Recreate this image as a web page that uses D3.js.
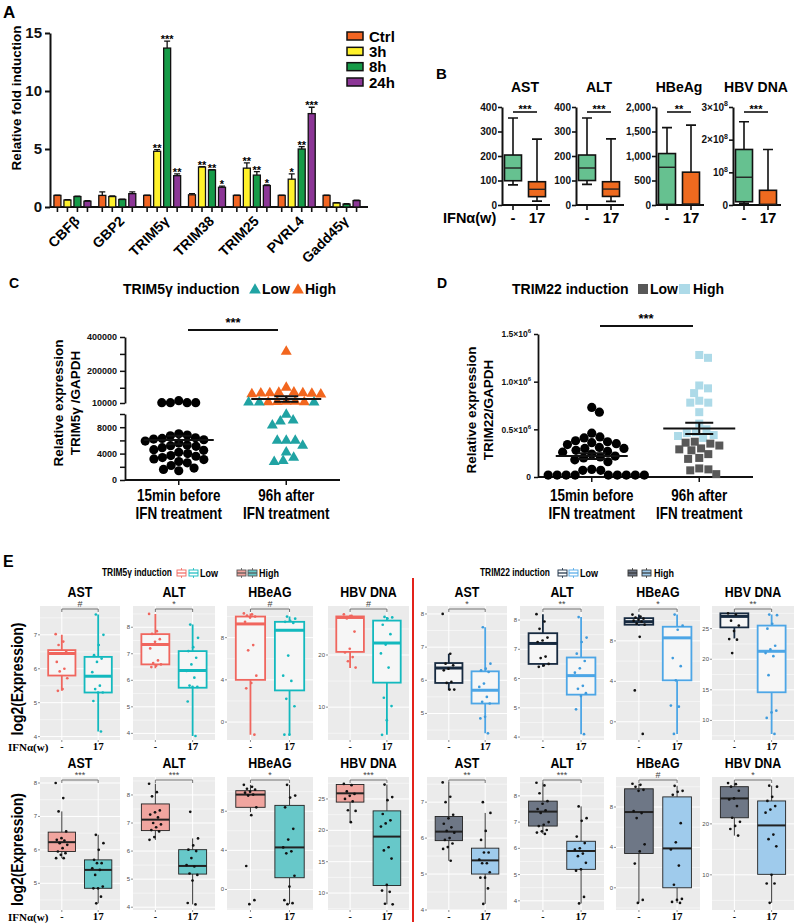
<!DOCTYPE html>
<html><head><meta charset="utf-8">
<script src="https://d3js.org/d3.v7.min.js"></script>
<style>
body{margin:0;background:#fff;}
svg{display:block;}
text{font-family:Arial,"Liberation Sans",Helvetica,sans-serif;}
</style></head>
<body><svg id="chart" width="800" height="924"></svg>
<script>
// ================= DATA =================
// Panel A
const aGenes = ["CBFβ","GBP2","TRIM5γ","TRIM38","TRIM25","PVRL4","Gadd45γ"];
const aSeries = ["Ctrl","3h","8h","24h"];
const aColors = ["#F26522","#FFF22B","#169B48","#8C3696"];
const aCtrl = [1.0,1.0,1.0,1.05,1.0,1.0,1.0];
const a3h   = [0.6,0.9,4.8,3.45,3.35,2.4,0.35];
const a8h   = [0.9,0.65,13.7,3.2,2.75,5.0,0.25];
const a24h  = [0.5,1.15,2.7,1.7,1.85,8.05,0.55];
const aCtrlErr = [0.03,0.3,0.03,0.1,0.03,0.03,0.03];
const a3hErr   = [0.03,0.05,0.15,0.03,0.45,0.45,0.03];
const a8hErr   = [0.03,0.03,0.6,0.03,0.3,0.2,0.03];
const a24hErr  = [0.05,0.15,0.15,0.1,0.05,0.55,0.03];
const aCtrlSig = ["","","","","","",""];
const a3hSig   = ["","","**","**","**","*",""];
const a8hSig   = ["","","***","**","**","**",""];
const a24hSig  = ["","","**","*","*","***",""];
const aYTicks = [0,5,10,15];

// Panel B  (box: [min, q1, median, q3, max])
const bMarkers = ["AST","ALT","HBeAg","HBV DNA"];
const bGroups = ["-","17"];
const bMax = [400,400,2000,3e8];
const bTicks = [[0,100,200,300,400],[0,100,200,300,400],[0,500,1000,1500,2000],[0,1e8,2e8,3e8]];
const bSig = ["***","***","**","***"];
const bCtrlBox = [[82,99,151,204,355],[84,100,151,204,355],[10,12,770,1050,1580],[0.05e8,0.1e8,0.85e8,1.7e8,2.55e8]];
const bIfnBox  = [[16,34,64,95,269],[15,35,65,95,270],[0,8,20,670,1630],[0,0.01e8,0.02e8,0.45e8,1.7e8]];

// Panel C
const cGroups = ["15min before|IFN treatment","96h after|IFN treatment"];
const cBefore = [24000,12000,12000,12000,12000,7000,6800,6700,6400,6300,6200,6100,5900,5600,5300,5200,5100,4900,4600,4500,4200,4000,3700,3600,3400,3200,3100,2800,2600,2200,1800,1600,1400];
const cAfterLow = [10500,10400,10300,9850,8970,8820,8200,5900,5900,5900,5130,4100,3330,2820,2670];
const cAfterHigh = [311000,98000,70000,68000,66000,65000,64000,62000,60000,58000,16000,15000,14000,13000,12500];
const cMeans = [6050,33600];
const cSems = [650,16000];
const cLowerTicks = [0,2000,4000,6000,8000,10000];
const cLowerLabels = [0,4000,8000];
const cUpperTicks = [10000,100000,200000,300000,400000];
const cUpperLabels = [10000,200000,400000];

// Panel D
const dBefore = [0.73e6,0.68e6,0.46e6,0.42e6,0.41e6,0.38e6,0.37e6,0.36e6,0.35e6,0.34e6,0.31e6,0.30e6,0.30e6,0.28e6,0.27e6,0.26e6,0.24e6,0.22e6,0.21e6,0.20e6,0.18e6,0.16e6,0.08e6,0.07e6,0.07e6,0.02e6,0.02e6,0.02e6,0.02e6,0.02e6,0.02e6,0.02e6,0.02e6,0.02e6];
const dAfterHigh = [1.28e6,1.25e6,0.96e6,0.93e6,0.88e6,0.80e6,0.78e6,0.78e6,0.68e6,0.56e6,0.50e6,0.47e6,0.46e6,0.44e6,0.43e6,0.41e6];
const dAfterLow = [0.37e6,0.36e6,0.35e6,0.33e6,0.30e6,0.29e6,0.28e6,0.24e6,0.20e6,0.19e6,0.09e6,0.08e6,0.07e6,0.03e6];
const dMeans = [0.22e6,0.51e6];
const dSems = [0.03e6,0.06e6];
const dTicks = [0,0.5e6,1.0e6,1.5e6];

// Panel E
const eMarkers = ["AST","ALT","HBeAG","HBV DNA"];
const eGroups = ["-","17"];
// TRIM5γ Low
const t5LowSig = ["#","*","#","#"];
const t5LowDomain = [[3.9,7.85],[3.75,8.8],[-1.7,11.0],[3.7,29.4]];
const t5LowTicks = [[4,5,6,7],[4,5,6,7,8],[0,4,8],[10,20]];
const t5LowCtrlBox = [[5.35,5.8,6.45,6.55,7.0],[6.45,6.6,7.35,7.74,8.5],[-1.2,4.0,9.3,10.0,10.3],[17.5,20.6,27.2,27.4,27.7]];
const t5LowIfnBox  = [[4.15,5.3,5.78,6.35,7.6],[3.9,5.72,6.37,7.1,8.1],[-1.2,3.0,8.7,9.5,10.0],[4.7,14.7,22.3,26.6,27.3]];
const t5LowCtrlPts = [[7.02,6.8,6.7,6.5,6.45,6.2,6.0,5.92,5.72,5.4,5.35],[8.5,7.85,7.75,7.55,7.45,7.2,6.75,6.65,6.6,6.55,6.5],[10.3,10.2,10.1,10.0,9.9,9.5,7.3,6.8,4.4,3.7,3.2,-1.2],[27.8,27.5,27.0,24.5,21.2,20.5,19.6,18.8,17.6]];
const t5LowIfnPts  = [[7.6,7.0,6.7,6.4,6.3,6.2,5.9,5.5,5.4,5.3,5.3,5.05,4.15],[8.1,7.6,7.25,7.1,6.85,6.6,6.35,6.1,5.8,5.75,5.75,5.2,3.9],[10.0,9.8,9.6,9.5,9.4,6.3,4.4,3.9,2.2,1.5,-1.2,-1.2],[27.3,27.2,27.0,25.8,24.0,22.0,20.3,17.6,11.8,10.2,7.5,4.7]];
// TRIM5γ High
const t5HighSig = ["***","***","*","***"];
const t5HighDomain = [[4.2,8.18],[3.9,8.64],[-2.1,11.5],[7.3,28.5]];
const t5HighTicks = [[5,6,7,8],[4,5,6,7,8],[0,4,8],[10,15,20,25]];
const t5HighCtrlBox = [[5.75,5.95,6.23,6.53,7.15],[6.4,6.73,7.12,7.68,8.4],[7.9,8.4,9.7,10.1,10.7],[21.3,24.5,25.9,27.3,27.4]];
const t5HighIfnBox  = [[4.4,4.85,5.4,5.7,6.45],[4.1,5.18,5.47,6.05,6.45],[-1.5,1.2,4.3,8.6,10.7],[8.2,11.2,19.0,23.1,27.3]];
const t5HighCtrlPts = [[8.0,7.55,7.15,6.55,6.35,6.3,6.28,6.2,6.15,6.05,5.95,5.9,5.85,5.75,5.75],[8.4,8.1,7.95,7.45,7.38,7.3,7.2,7.0,6.95,6.85,6.75,6.7,6.5,6.4],[10.7,10.5,10.3,10.2,10.0,9.9,9.7,9.6,8.4,7.6,2.4,-1.1,-1.5],[27.4,27.2,26.2,25.8,25.5,25.0,24.6,23.2,23.1,21.3]];
const t5HighIfnPts  = [[6.45,6.2,6.0,5.7,5.6,5.6,5.45,5.4,5.25,4.9,4.85,4.85,4.6,4.4],[7.4,6.45,6.2,6.05,6.0,5.75,5.5,5.45,5.2,5.15,4.95,4.15,4.1],[10.7,9.6,9.4,8.4,6.2,5.1,4.3,3.9,3.7,1.4,0.3,-1.1,-1.4,-1.5],[27.3,25.3,24.8,22.6,21.6,21.1,20.6,17.3,16.8,15.5,11.3,10.4,10.2,8.3,8.2]];
// TRIM22 Low
const t22LowSig = ["*","**","*","**"];
const t22LowDomain = [[4.2,8.24],[3.9,8.48],[-1.8,11.45],[6.8,28.7]];
const t22LowTicks = [[5,6,7,8],[4,5,6,7,8],[0,4,8],[10,15,20,25]];
const t22LowCtrlBox = [[5.7,5.92,6.37,6.52,6.8],[6.4,6.5,7.2,7.55,8.2],[9.5,9.6,9.9,10.25,10.6],[23.4,25.2,27.0,27.5,27.5]];
const t22LowIfnBox  = [[4.4,5.3,5.7,6.27,7.6],[4.1,5.45,6.1,6.72,8.1],[-1.2,4.1,8.3,9.4,10.6],[7.8,14.6,21.3,25.5,27.3]];
const t22LowCtrlPts = [[8.0,6.8,6.5,6.45,6.35,6.3,5.95,5.92,5.72,5.72],[8.2,7.95,7.7,7.4,7.3,7.25,6.75,6.7,6.5,6.45,6.4],[10.6,10.4,10.3,10.2,10.1,10.0,9.9,9.7,9.6,8.4,3.1,-1.2],[27.5,27.3,26.3,25.5,24.6,23.3,23.2,21.0]];
const t22LowIfnPts  = [[7.6,6.5,6.35,6.3,6.25,5.9,5.8,5.5,5.35,5.3,4.9,4.85,4.4],[8.1,7.4,7.25,6.85,6.6,6.35,6.2,5.75,5.65,5.5,5.4,4.95,4.1],[10.6,9.5,9.1,6.3,5.5,4.1,1.6,1.5,-1.2],[27.3,27.2,25.8,25.0,22.2,21.6,21.0,20.5,17.4,11.6,11.3,10.4,7.8]];
// TRIM22 High
const t22HighSig = ["**","***","#","*"];
const t22HighDomain = [[4.0,7.7],[3.65,8.72],[-2.2,10.97],[3.1,29.2]];
const t22HighTicks = [[4,5,6,7],[4,5,6,7,8],[0,4,8],[10,20]];
const t22HighCtrlBox = [[5.37,5.93,6.18,6.6,7.55],[6.55,6.85,7.4,7.8,8.5],[-1.5,3.4,7.5,9.8,10.3],[17.7,21.2,25.0,27.3,28.0]];
const t22HighIfnBox  = [[4.17,5.0,5.38,5.72,6.7],[3.9,5.2,5.9,6.27,7.6],[-1.5,0.0,3.9,9.0,10.1],[4.5,10.1,19.7,24.5,27.5]];
const t22HighCtrlPts = [[7.55,7.15,7.0,6.65,6.55,6.4,6.3,6.2,6.15,6.0,5.95,5.85,5.75,5.7,5.37],[8.5,8.4,8.1,7.8,7.7,7.5,7.45,7.35,7.0,6.9,6.85,6.7,6.65,6.6,6.55],[10.3,10.2,10.0,9.7,9.6,7.6,7.4,6.9,4.3,3.6,2.4,-1.2,-1.5],[28.0,27.8,27.3,26.5,25.0,24.8,23.5,21.2,20.4,19.6,19.0,17.7]];
const t22HighIfnPts  = [[7.0,6.7,6.2,5.95,5.6,5.6,5.4,5.3,5.3,5.05,4.9,4.9,4.6,4.17],[7.6,7.15,7.05,6.45,6.2,6.0,5.95,5.8,5.7,5.45,5.2,5.15,4.15,3.9],[10.1,9.6,9.5,9.2,6.4,4.5,3.8,2.2,0.3,-1.1,-1.2,-1.4,-1.5],[27.5,27.3,25.3,24.5,23.5,22.8,22.2,17.9,17.0,15.6,10.0,8.3,8.3,4.5]];

// ================= DRAWING =================
const svg = d3.select("#chart");
// text helper; opts.sx condenses text horizontally, opts.rot rotates it
function label(g, x, y, s, size, opts = {}) {
  const t = g.append("text").attr("font-size", size)
    .attr("font-weight", opts.weight || "bold").attr("text-anchor", opts.anchor || "start")
    .attr("fill", opts.fill || "#000").text(s);
  if (opts.family) t.style("font-family", opts.family);
  if (opts.sx || opts.rot) {
    t.attr("x", 0).attr("y", 0).attr("transform", `translate(${x},${y})` + (opts.rot ? ` rotate(${opts.rot})` : "") + (opts.sx ? ` scale(${opts.sx},1)` : ""));
  } else t.attr("x", x).attr("y", y);
  return t;
}
function supLabel(sel, base, exp, size) {
  sel.text(null);
  sel.append("tspan").text(base);
  sel.append("tspan").attr("dy", -size * 0.45).attr("font-size", size * 0.7).text(exp);
}
function swarm(ys, r) {
  const idx = ys.map((y, i) => i).sort((a, b) => ys[a] - ys[b]);
  const placed = [], out = new Array(ys.length), d = 2 * r;
  for (const i of idx) {
    const y = ys[i];
    const cands = [0];
    for (const p of placed) {
      const dy = Math.abs(p.y - y);
      if (dy < d) { const dx = Math.sqrt(d * d - dy * dy); cands.push(p.x + dx, p.x - dx); }
    }
    cands.sort((a, b) => Math.abs(a) - Math.abs(b));
    let x = 0;
    for (const c of cands) {
      if (placed.every(p => (p.x - c) ** 2 + (p.y - y) ** 2 >= d * d - 0.01)) { x = c; break; }
    }
    placed.push({ x, y }); out[i] = x;
  }
  return out;
}

// ---------- Panel A ----------
(function () {
  const g = svg.append("g");
  label(g, 3, 18, "A", 17);
  const ax = d3.scalePoint().domain(aGenes).range([50, 364]).padding(0.5);
  const aSub = d3.scaleBand().domain(aSeries).range([-19.5, 19.5]).paddingInner(0.3).paddingOuter(0.1);
  const ay = d3.scaleLinear().domain([0, 15]).range([207, 33]);
  const vals = [aCtrl, a3h, a8h, a24h], errs = [aCtrlErr, a3hErr, a8hErr, a24hErr], sigs = [aCtrlSig, a3hSig, a8hSig, a24hSig];
  const rows = aGenes.flatMap((gn, gi) => aSeries.map((s, si) => ({ gn, s, si, v: vals[si][gi], e: errs[si][gi], sig: sigs[si][gi] })));
  const bw = aSub.bandwidth();
  const cx = d => ax(d.gn) + aSub(d.s) + bw / 2;
  g.append("line").attr("x1", 50).attr("x2", 368).attr("y1", ay(0)).attr("y2", ay(0)).attr("stroke", "#111").attr("stroke-width", 2);
  g.selectAll(".xt").data(rows).join("line").attr("x1", cx).attr("x2", cx).attr("y1", ay(0)).attr("y2", ay(0) + 5).attr("stroke", "#111").attr("stroke-width", 1.6);
  g.selectAll(".bar").data(rows).join("rect")
    .attr("x", d => ax(d.gn) + aSub(d.s)).attr("y", d => ay(d.v)).attr("width", bw).attr("height", d => ay(0) - ay(d.v))
    .attr("fill", d => aColors[d.si]).attr("stroke", "#111").attr("stroke-width", 1.3);
  g.selectAll(".eb").data(rows).join("path")
    .attr("d", d => `M${cx(d)},${ay(d.v)}V${ay(d.v + d.e)}M${cx(d) - 3},${ay(d.v + d.e)}H${cx(d) + 3}`)
    .attr("stroke", "#111").attr("stroke-width", 1.3).attr("fill", "none");
  g.selectAll(".st").data(rows.filter(d => d.sig)).join("text")
    .attr("x", cx).attr("y", d => ay(d.v + d.e) + 2).attr("text-anchor", "middle")
    .attr("font-size", 11).attr("font-weight", "bold").text(d => d.sig);
  const yA = g.append("g").attr("transform", "translate(50,0)")
    .call(d3.axisLeft(ay).tickValues(aYTicks).tickSize(5).tickSizeOuter(0));
  yA.select(".domain").attr("stroke-width", 2).attr("stroke", "#111");
  yA.selectAll(".tick line").attr("stroke-width", 2).attr("stroke", "#111");
  yA.selectAll("text").attr("font-size", 15).attr("font-weight", "bold").attr("fill", "#111").style("font-family", "Arial");
  label(g, 21, 98, "Relative fold induction", 13.5, { anchor: "middle", rot: -90 });
  g.selectAll(".xl").data(aGenes).join("text")
    .attr("text-anchor", "end").attr("font-size", 14).attr("font-weight", "bold")
    .attr("transform", d => `translate(${ax(d) + 8},${222}) rotate(-45)`).text(d => d);
  const ly = d3.scalePoint().domain(aSeries).range([36, 82]);
  aSeries.forEach((s, i) => {
    g.append("rect").attr("x", 347).attr("y", ly(s) - 4).attr("width", 16).attr("height", 8).attr("fill", aColors[i]).attr("stroke", "#111").attr("stroke-width", 1.5);
    label(g, 369, ly(s) + 5.5, s, 15);
  });
})();

// ---------- Panel B ----------
(function () {
  const g = svg.append("g");
  label(g, 436, 79, "B", 15);
  const bX0 = [502, 576, 656, 733];
  const green = "#66C190", orange = "#EE6A1F";
  bMarkers.forEach((m, i) => {
    const x0 = bX0[i];
    const x = d3.scalePoint().domain(bGroups).range([x0 - 1, x0 + 47]).padding(0.5);
    const y = d3.scaleLinear().domain([0, bMax[i]]).range([205, 107]);
    const sg = g.append("g");
    sg.append("line").attr("x1", x0).attr("x2", x0 + 48).attr("y1", 205).attr("y2", 205).attr("stroke", "#111").attr("stroke-width", 2);
    bGroups.forEach(k => sg.append("line").attr("x1", x(k)).attr("x2", x(k)).attr("y1", 205).attr("y2", 210).attr("stroke", "#111").attr("stroke-width", 1.6));
    const ya = sg.append("g").attr("transform", `translate(${x0},0)`)
      .call(d3.axisLeft(y).tickValues(bTicks[i]).tickSize(4).tickSizeOuter(0));
    ya.select(".domain").attr("stroke-width", 2).attr("stroke", "#111");
    ya.selectAll(".tick line").attr("stroke-width", 1.6).attr("stroke", "#111");
    ya.selectAll("text").attr("font-size", 10).attr("font-weight", "bold").attr("fill", "#111").attr("x", -5);
    if (i === 3) {
      ya.selectAll("text").each(function (d) {
        const t = d3.select(this);
        const c = d / 1e8;
        if (c === 0) t.text("0");
        else supLabel(t, c === 1 ? "10" : c + "×10", "8", 10);
      });
    }
    [bCtrlBox[i], bIfnBox[i]].forEach((b, k) => {
      const cx = x(bGroups[k]), hw = 8.5;
      sg.append("path").attr("d", `M${cx},${y(b[0])}V${y(b[1])}M${cx},${y(b[3])}V${y(b[4])}M${cx - 5},${y(b[0])}H${cx + 5}M${cx - 5},${y(b[4])}H${cx + 5}`)
        .attr("stroke", "#111").attr("stroke-width", 1.6).attr("fill", "none");
      sg.append("rect").attr("x", cx - hw).attr("y", y(b[3])).attr("width", 2 * hw).attr("height", y(b[1]) - y(b[3]))
        .attr("fill", k === 0 ? green : orange).attr("stroke", "#111").attr("stroke-width", 1.6);
      sg.append("line").attr("x1", cx - hw).attr("x2", cx + hw).attr("y1", y(b[2])).attr("y2", y(b[2])).attr("stroke", "#222").attr("stroke-width", 1.4);
      label(sg, cx, 223, bGroups[k], 15, { anchor: "middle" });
    });
    sg.append("line").attr("x1", x("-")).attr("x2", x("17")).attr("y1", 112).attr("y2", 112).attr("stroke", "#111").attr("stroke-width", 1.6);
    label(sg, (x("-") + x("17")) / 2, 113, bSig[i], 11, { anchor: "middle" });
    label(sg, x0 + 23, 92, m, 14, { anchor: "middle" });
  });
  label(g, 443, 223, "IFNα(w)", 14.5);
})();

// ---------- Panel C ----------
(function () {
  const g = svg.append("g");
  label(g, 9, 288, "C", 14);
  const teal = "#20A3A3", orange = "#F2661E";
  label(g, 123, 294, "TRIM5γ induction", 14);
  const tri = d3.symbol(d3.symbolTriangle);
  g.append("path").attr("d", tri.size(60)()).attr("transform", "translate(255,290)").attr("fill", teal);
  label(g, 262, 294, "Low", 14);
  g.append("path").attr("d", tri.size(60)()).attr("transform", "translate(298,290)").attr("fill", orange);
  label(g, 305, 294, "High", 14);

  const x = d3.scalePoint().domain(cGroups).range([125, 340]).padding(0.5);
  const lower = d3.scaleLinear().domain([0, 10000]).range([480, 414]);
  const upper = d3.scaleLinear().domain([10000, 400000]).range([403, 337]);
  const cy = v => v > 10000 ? upper(v) : lower(v);
  const styleAxis = a => {
    a.select(".domain").attr("stroke-width", 1.8).attr("stroke", "#111");
    a.selectAll(".tick line").attr("stroke-width", 1.5).attr("stroke", "#111");
    a.selectAll("text").attr("font-size", 9).attr("font-weight", "bold").attr("fill", "#111");
  };
  styleAxis(g.append("g").attr("transform", "translate(125,0)")
    .call(d3.axisLeft(lower).tickValues(cLowerTicks).tickSize(5).tickSizeOuter(0).tickFormat(d => cLowerLabels.includes(d) ? d : "")));
  styleAxis(g.append("g").attr("transform", "translate(125,0)")
    .call(d3.axisLeft(upper).tickValues(cUpperTicks).tickSize(5).tickSizeOuter(0).tickFormat(d => cUpperLabels.includes(d) ? d : "")));
  g.append("line").attr("x1", 125).attr("x2", 340).attr("y1", 480).attr("y2", 480).attr("stroke", "#111").attr("stroke-width", 1.8);
  cGroups.forEach((k) => {
    g.append("line").attr("x1", x(k)).attr("x2", x(k)).attr("y1", 480).attr("y2", 485).attr("stroke", "#111").attr("stroke-width", 1.5);
    const [l1, l2] = k.split("|");
    label(g, x(k), 501, l1, 16, { anchor: "middle", sx: 0.84 });
    label(g, x(k), 519, l2, 16, { anchor: "middle", sx: 0.84 });
  });
  label(g, 63, 403, "Relative expression", 13.5, { anchor: "middle", rot: -90 });
  label(g, 80, 403, "TRIM5γ /GAPDH", 13.5, { anchor: "middle", rot: -90 });

  const yb = cBefore.map(cy);
  const xb = swarm(yb, 4.3);
  g.selectAll(".pb").data(cBefore).join("circle").attr("cx", (d, i) => x(cGroups[0]) + xb[i]).attr("cy", d => cy(d)).attr("r", 4.6).attr("fill", "#000");
  const after = cAfterHigh.map(v => ({ v, c: orange })).concat(cAfterLow.map(v => ({ v, c: teal })));
  const xa = swarm(after.map(d => cy(d.v)), 4.5);
  g.selectAll(".pa").data(after).join("path").attr("d", tri.size(52)())
    .attr("transform", (d, i) => `translate(${x(cGroups[1]) + xa[i]},${cy(d.v) - 0.5})`).attr("fill", d => d.c);
  cGroups.forEach((k, i) => {
    const m = cy(cMeans[i]), lo = cy(cMeans[i] - cSems[i]), hi = cy(cMeans[i] + cSems[i]), c = x(k);
    g.append("path").attr("d", `M${c - 35},${m}H${c + 35}M${c},${lo}V${hi}M${c - 12},${lo}H${c + 12}M${c - 12},${hi}H${c + 12}`)
      .attr("stroke", "#111").attr("stroke-width", 2).attr("fill", "none");
  });
  g.append("line").attr("x1", 188).attr("x2", 278).attr("y1", 330).attr("y2", 330).attr("stroke", "#111").attr("stroke-width", 1.8);
  label(g, 233, 327, "***", 13, { anchor: "middle" });
})();

// ---------- Panel D ----------
(function () {
  const g = svg.append("g");
  label(g, 437, 288, "D", 14);
  const dark = "#585858", light = "#ADDAE8";
  label(g, 512, 294, "TRIM22 induction", 14);
  g.append("rect").attr("x", 638).attr("y", 284).attr("width", 10).attr("height", 10).attr("fill", dark);
  label(g, 650, 294, "Low", 14);
  g.append("rect").attr("x", 679).attr("y", 284).attr("width", 11).attr("height", 10).attr("fill", light);
  label(g, 693, 294, "High", 14);

  const x = d3.scalePoint().domain(cGroups).range([538, 753]).padding(0.5);
  const y = d3.scaleLinear().domain([0, 1.5e6]).range([477, 334]);
  const ya = g.append("g").attr("transform", "translate(538,0)").call(d3.axisLeft(y).tickValues(dTicks).tickSize(4).tickSizeOuter(0));
  ya.select(".domain").attr("stroke-width", 1.8).attr("stroke", "#111");
  ya.selectAll(".tick line").attr("stroke-width", 1.5).attr("stroke", "#111");
  ya.selectAll("text").attr("font-size", 8.5).attr("font-weight", "bold").attr("fill", "#111").each(function (d) {
    const t = d3.select(this);
    if (d === 0) t.text("0"); else supLabel(t, d3.format(".1f")(d / 1e6) + "×10", "6", 8.5);
  });
  g.append("line").attr("x1", 538).attr("x2", 753).attr("y1", 477).attr("y2", 477).attr("stroke", "#111").attr("stroke-width", 1.8);
  cGroups.forEach((k) => {
    g.append("line").attr("x1", x(k)).attr("x2", x(k)).attr("y1", 477).attr("y2", 482).attr("stroke", "#111").attr("stroke-width", 1.5);
    const [l1, l2] = k.split("|");
    label(g, x(k), 501, l1, 16, { anchor: "middle", sx: 0.84 });
    label(g, x(k), 519, l2, 16, { anchor: "middle", sx: 0.84 });
  });
  label(g, 476, 410, "Relative expression", 13.5, { anchor: "middle", rot: -90 });
  label(g, 493, 410, "TRIM22/GAPDH", 13.5, { anchor: "middle", rot: -90 });

  const xb = swarm(dBefore.map(y), 4.5);
  g.selectAll(".pb").data(dBefore).join("circle").attr("cx", (d, i) => x(cGroups[0]) + xb[i]).attr("cy", d => y(d)).attr("r", 4.6).attr("fill", "#000");
  const after = dAfterHigh.map(v => ({ v, c: light })).concat(dAfterLow.map(v => ({ v, c: dark })));
  const xa = swarm(after.map(d => y(d.v)), 4.6);
  g.selectAll(".pa").data(after).join("rect").attr("x", (d, i) => x(cGroups[1]) + xa[i] - 4).attr("y", d => y(d.v) - 4)
    .attr("width", 8).attr("height", 8).attr("fill", d => d.c);
  cGroups.forEach((k, i) => {
    const m = y(dMeans[i]), lo = y(dMeans[i] - dSems[i]), hi = y(dMeans[i] + dSems[i]), c = x(k);
    g.append("path").attr("d", `M${c - 36},${m}H${c + 36}M${c},${lo}V${hi}M${c - 14},${lo}H${c + 14}M${c - 14},${hi}H${c + 14}`)
      .attr("stroke", "#111").attr("stroke-width", 2).attr("fill", "none");
  });
  g.append("line").attr("x1", 600).attr("x2", 693).attr("y1", 326).attr("y2", 326).attr("stroke", "#111").attr("stroke-width", 1.8);
  label(g, 646, 323, "***", 13, { anchor: "middle" });
})();

// ---------- Panel E ----------
const SERIF = "'Liberation Serif','Times New Roman',serif";
function drawE(g, xr, yr, title, domain, ticks, sig, boxes, pts, st) {
  const [x0, x1] = xr, [y0, y1] = yr;
  const x = d3.scaleLinear().domain([0.4, 2.6]).range([x0, x1]);
  const y = d3.scaleLinear().domain(domain).range([y1, y0]);
  g.append("rect").attr("x", x0).attr("y", y0).attr("width", x1 - x0).attr("height", y1 - y0).attr("fill", "#EBEBEB");
  const step = ticks[1] - ticks[0];
  const minors = d3.range(ticks[0] - step * 1.5, domain[1] + step, step).filter(v => v > domain[0] && v < domain[1]);
  g.selectAll(null).data(minors).join("line").attr("x1", x0).attr("x2", x1).attr("y1", d => y(d)).attr("y2", d => y(d)).attr("stroke", "#fff").attr("stroke-width", 0.5);
  g.selectAll(null).data(ticks).join("line").attr("x1", x0).attr("x2", x1).attr("y1", d => y(d)).attr("y2", d => y(d)).attr("stroke", "#fff").attr("stroke-width", 1);
  g.selectAll(null).data([1, 2]).join("line").attr("x1", d => x(d)).attr("x2", d => x(d)).attr("y1", y0).attr("y2", y1).attr("stroke", "#fff").attr("stroke-width", 1);
  g.selectAll(null).data(ticks).join("line").attr("x1", x0 - 2).attr("x2", x0).attr("y1", d => y(d)).attr("y2", d => y(d)).attr("stroke", "#444").attr("stroke-width", 0.6);
  g.selectAll(null).data(ticks).join("text").attr("x", x0 - 3).attr("y", d => y(d) + 2).attr("text-anchor", "end")
    .attr("font-size", 6).attr("fill", "#4D4D4D").text(d => d);
  [1, 2].forEach(k => g.append("line").attr("x1", x(k)).attr("x2", x(k)).attr("y1", y1).attr("y2", y1 + 2).attr("stroke", "#444").attr("stroke-width", 0.6));
  boxes.forEach((b, k) => {
    const c = x(k + 1), hw = x(1.375) - x(1);
    const strokeC = st.filled ? "#222" : st.colors[k];
    const sw = st.filled ? 0.9 : 1.8;
    g.append("path").attr("d", `M${c},${y(b[0])}V${y(b[1])}M${c},${y(b[3])}V${y(b[4])}`).attr("stroke", strokeC).attr("stroke-width", sw);
    g.append("rect").attr("x", c - hw).attr("y", y(b[3])).attr("width", 2 * hw).attr("height", y(b[1]) - y(b[3]))
      .attr("fill", st.filled ? st.colors[k] : "#F6F6F6").attr("stroke", strokeC).attr("stroke-width", sw);
    g.append("line").attr("x1", c - hw).attr("x2", c + hw).attr("y1", y(b[2])).attr("y2", y(b[2])).attr("stroke", strokeC).attr("stroke-width", st.filled ? 2 : 3);
    const p = pts[k];
    g.selectAll(null).data(p).join("circle")
      .attr("cx", (d, i) => c + (((i * 0.618034 + 0.31 * k) % 1) - 0.5) * (hw * 0.9))
      .attr("cy", d => y(d)).attr("r", 1.35).attr("fill", st.pointColors[k]);
    label(g, c, y1 + 10, eGroups[k], k === 0 ? 10 : 11, { anchor: "middle", family: SERIF });
  });
  g.append("path").attr("d", `M${x(1)},${y0 + 6}V${y0 + 3}H${x(2)}V${y0 + 6}`).attr("stroke", "#555").attr("stroke-width", 0.8).attr("fill", "none");
  label(g, (x(1) + x(2)) / 2, y0 + 1, sig, 9, { anchor: "middle", fill: "#444", weight: "normal" });
  label(g, (x0 + x1) / 2, y0 - 9, title, 15.5, { anchor: "middle", sx: 0.8 });
}
(function () {
  const g = svg.append("g");
  label(g, 3, 567, "E", 16);
  const leftX = [[40, 120], [133, 215], [227, 313], [328, 409]];
  const rightX = [[427, 507], [520, 604], [616, 700], [712, 794]];
  const topY = [606, 740], botY = [777, 910];
  const rowsSpec = [
    { xs: leftX, yr: topY, dom: t5LowDomain, ticks: t5LowTicks, sig: t5LowSig, cb: t5LowCtrlBox, ib: t5LowIfnBox, cp: t5LowCtrlPts, ip: t5LowIfnPts,
      st: { filled: false, colors: ["#F0665E", "#13B9BE"], pointColors: ["#F0665E", "#13B9BE"] } },
    { xs: leftX, yr: botY, dom: t5HighDomain, ticks: t5HighTicks, sig: t5HighSig, cb: t5HighCtrlBox, ib: t5HighIfnBox, cp: t5HighCtrlPts, ip: t5HighIfnPts,
      st: { filled: true, colors: ["#F0A59F", "#67C8C9"], pointColors: ["#111", "#111"] } },
    { xs: rightX, yr: topY, dom: t22LowDomain, ticks: t22LowTicks, sig: t22LowSig, cb: t22LowCtrlBox, ib: t22LowIfnBox, cp: t22LowCtrlPts, ip: t22LowIfnPts,
      st: { filled: false, colors: ["#172A40", "#4DA6E6"], pointColors: ["#111", "#3F9BDD"] } },
    { xs: rightX, yr: botY, dom: t22HighDomain, ticks: t22HighTicks, sig: t22HighSig, cb: t22HighCtrlBox, ib: t22HighIfnBox, cp: t22HighCtrlPts, ip: t22HighIfnPts,
      st: { filled: true, colors: ["#6E7786", "#9FCBEC"], pointColors: ["#111", "#111"] } }
  ];
  rowsSpec.forEach(r => {
    eMarkers.forEach((m, i) => {
      drawE(g.append("g"), r.xs[i], r.yr, m, r.dom[i], r.ticks[i], r.sig[i], [r.cb[i], r.ib[i]], [r.cp[i], r.ip[i]], r.st);
    });
  });
  [topY, botY].forEach(yr => {
    label(g, 23, (yr[0] + yr[1]) / 2 + 6, "log2(Expression)", 17, { anchor: "middle", rot: -90, sx: 0.82 });
    label(g, 8, yr[1] + 11, "IFNα(w)", 11, { family: SERIF });
  });
  g.append("line").attr("x1", 413).attr("x2", 413).attr("y1", 578).attr("y2", 922).attr("stroke", "#E3221B").attr("stroke-width", 2);
  function icon(x, y, stroke, fill) {
    g.append("line").attr("x1", x + 4.5).attr("x2", x + 4.5).attr("y1", y - 5).attr("y2", y + 5).attr("stroke", stroke).attr("stroke-width", 0.8);
    g.append("rect").attr("x", x).attr("y", y - 3).attr("width", 9).attr("height", 6).attr("fill", fill).attr("stroke", stroke).attr("stroke-width", 0.9);
    g.append("line").attr("x1", x).attr("x2", x + 9).attr("y1", y).attr("y2", y).attr("stroke", stroke).attr("stroke-width", 1.2);
  }
  label(g, 102, 576, "TRIM5γ induction", 10, { sx: 0.84 });
  icon(177, 573, "#F0665E", "#fff"); icon(189, 573, "#13B9BE", "#fff");
  label(g, 200, 577, "Low", 10, { sx: 0.9 });
  icon(237, 573, "#555", "#F0A59F"); icon(248, 573, "#555", "#67C8C9");
  label(g, 259, 577, "High", 10, { sx: 0.9 });
  label(g, 480, 576, "TRIM22 induction", 10, { sx: 0.84 });
  icon(558, 573, "#172A40", "#fff"); icon(569, 573, "#4DA6E6", "#fff");
  label(g, 580, 577, "Low", 10, { sx: 0.9 });
  icon(628, 573, "#333", "#6E7786"); icon(642, 573, "#333", "#9FCBEC");
  label(g, 654, 577, "High", 10, { sx: 0.9 });
})();
</script>
</body></html>
